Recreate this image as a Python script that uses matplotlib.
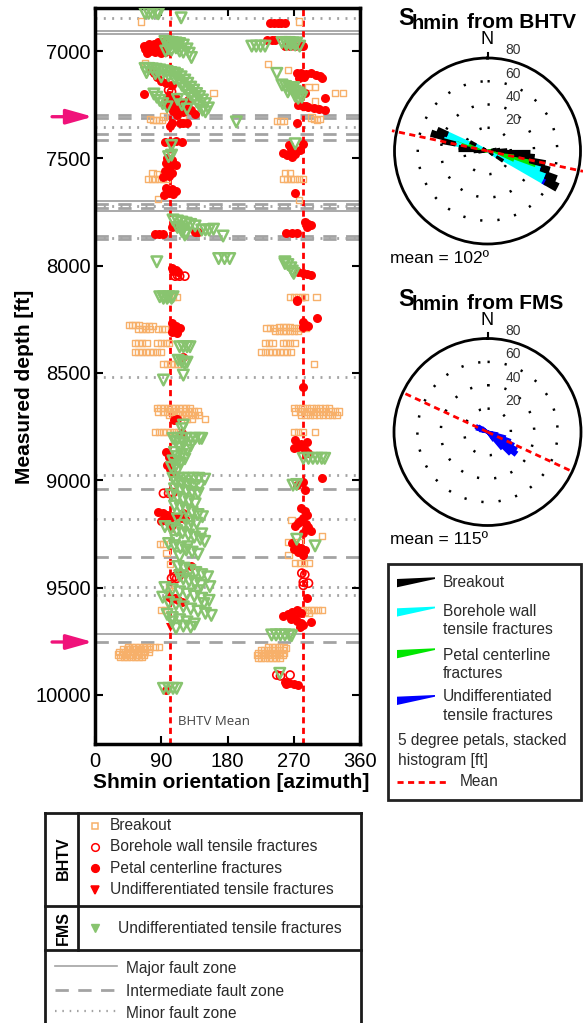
import numpy as np
import matplotlib
matplotlib.use('Agg')
import matplotlib.pyplot as plt
from matplotlib.patches import Polygon, Rectangle
from matplotlib.lines import Line2D

plt.rcParams['font.family'] = ['Liberation Sans', 'DejaVu Sans']

# ---------------- data (depth [ft], azimuth [deg]) ----------------
breakout = [
    (6862, 63), (6862, 277), (7057, 68), (7062, 235), (7088, 262),
    (7166, 290), (7166, 299), (7197, 161), (7197, 326), (7197, 337), (7235, 299),
    (7318, 75), (7321, 79), (7321, 83), (7323, 87), (7321, 91), (7305, 93), (7300, 120),
    (7310, 294), (7315, 298), (7321, 302), (7318, 306), (7325, 247), (7325, 252), (7325, 256),
    (7570, 78), (7572, 84), (7595, 72), (7597, 77), (7598, 82), (7597, 87), (7598, 92), (7597, 97),
    (7570, 258), (7570, 265), (7595, 256), (7597, 261), (7597, 266), (7598, 271), (7597, 277), (7597, 283),
    (7691, 86), (7694, 277), (7795, 285),
    (8145, 95), (8145, 100), (8145, 106), (8145, 111), (8145, 265), (8145, 270), (8145, 276),
    (8145, 281), (8145, 285), (8145, 301),
    (8275, 46), (8275, 50), (8275, 55), (8275, 60), (8280, 68), (8280, 73), (8280, 78),
    (8297, 59), (8297, 64), (8297, 69), (8297, 74), (8295, 86), (8295, 91), (8297, 95),
    (8362, 54), (8362, 59), (8362, 64), (8362, 70), (8360, 85), (8362, 90), (8362, 96), (8362, 101),
    (8404, 54), (8404, 59), (8404, 64), (8404, 69), (8404, 74), (8404, 79), (8404, 84), (8404, 90),
    (8460, 93), (8460, 98), (8460, 103), (8460, 108), (8460, 113),
    (8289, 233), (8289, 238), (8289, 243), (8287, 250), (8287, 255), (8287, 260), (8287, 265),
    (8289, 270), (8289, 276), (8289, 281), (8289, 287),
    (8305, 245), (8305, 250), (8305, 255), (8305, 260), (8305, 265), (8305, 270), (8305, 276),
    (8362, 231), (8362, 236), (8362, 241), (8362, 255), (8362, 260), (8362, 265), (8362, 271),
    (8404, 226), (8404, 231), (8404, 236), (8404, 241), (8404, 246), (8404, 251), (8404, 256),
    (8404, 261), (8404, 266), (8460, 297),
    (8665, 84), (8665, 89), (8665, 94), (8665, 99), (8665, 104), (8665, 109), (8665, 114),
    (8665, 119), (8665, 124), (8665, 129),
    (8680, 86), (8680, 92), (8680, 98), (8680, 104), (8680, 110), (8680, 116), (8680, 122),
    (8680, 128), (8680, 134), (8680, 140),
    (8696, 100), (8696, 106), (8696, 112), (8696, 118), (8696, 124), (8696, 130), (8696, 136), (8696, 141),
    (8715, 125), (8715, 131), (8715, 149),
    (8665, 270), (8665, 276), (8665, 282), (8665, 288), (8665, 294), (8665, 300), (8665, 306),
    (8665, 312), (8665, 318),
    (8680, 272), (8680, 278), (8680, 284), (8680, 290), (8680, 296), (8680, 302), (8680, 308),
    (8680, 314), (8680, 320), (8680, 326), (8680, 332),
    (8696, 280), (8696, 286), (8696, 292), (8696, 298), (8696, 304), (8696, 310), (8696, 316),
    (8696, 322), (8696, 328),
    (8777, 82), (8777, 87), (8777, 92), (8777, 97), (8777, 102), (8777, 107), (8777, 113),
    (8777, 270), (8777, 276), (8777, 282), (8777, 299),
    (9186, 267), (9260, 308), (9288, 263), (9288, 270), (9288, 278), (9348, 263),
    (9387, 272), (9387, 278), (9384, 284), (9387, 290),
    (9186, 93), (9297, 88), (9297, 93), (9340, 97), (9390, 102), (9496, 100),
    (9488, 104), (9605, 90), (9605, 95),
    (9605, 283), (9605, 288), (9605, 293), (9605, 298), (9605, 303), (9605, 308), (9615, 285), (9620, 290),
    (9776, 45), (9776, 50), (9776, 55), (9776, 60), (9776, 65), (9776, 70), (9776, 75), (9778, 82), (9778, 87),
    (9788, 38), (9788, 43), (9788, 48), (9788, 53), (9788, 58), (9788, 63), (9788, 68), (9788, 73),
    (9800, 33), (9800, 38), (9800, 43), (9800, 48), (9800, 53), (9800, 58), (9800, 63), (9800, 68), (9800, 73),
    (9812, 32), (9812, 37), (9812, 42), (9812, 47), (9812, 52), (9812, 57), (9812, 62), (9812, 67),
    (9824, 34), (9824, 39), (9824, 44), (9824, 49), (9824, 54), (9824, 59), (9824, 64),
    (9780, 235), (9780, 240), (9780, 245), (9780, 250), (9780, 256), (9782, 260),
    (9792, 225), (9792, 230), (9792, 235), (9792, 240), (9792, 245), (9792, 250), (9792, 255),
    (9804, 221), (9804, 226), (9804, 231), (9804, 236), (9804, 241), (9804, 246), (9804, 251), (9804, 256),
    (9816, 220), (9816, 225), (9816, 230), (9816, 235), (9816, 240), (9816, 245), (9816, 250), (9816, 255),
    (9828, 221), (9828, 226), (9828, 231), (9828, 236), (9828, 241), (9828, 246), (9828, 251),
]

borehole_wall = [
    (7182, 100), (7190, 104), (8049, 109), (8049, 115), (8049, 122), (8045, 112),
    (9061, 93), (9061, 100), (9058, 106), (9457, 104), (9457, 111), (9450, 108),
    (9433, 281), (9440, 285), (9475, 283), (9480, 290), (9490, 283),
    (9908, 247), (9908, 265), (9912, 252),
]

petal_centerline = [
    (6871, 238), (6871, 243), (6871, 248), (6871, 253), (6871, 258),
    (6958, 85), (6960, 92), (6962, 97), (6965, 80), (6968, 74), (6970, 88), (6975, 70), (6978, 66),
    (6980, 78), (6983, 84), (6985, 93), (6990, 72), (6992, 68), (6995, 80), (6998, 88), (7000, 75),
    (7003, 95), (7005, 82), (7008, 70), (7011, 90),
    (6950, 233), (6950, 240), (6950, 245), (6977, 258), (6977, 265), (6977, 272), (6977, 278), (6977, 283),
    (7104, 274), (7104, 280), (7108, 287), (7104, 294), (7110, 300), (7118, 305), (7127, 308),
    (7120, 284), (7125, 277), (7197, 285), (7217, 312), (7202, 67),
    (7205, 100), (7212, 108), (7220, 98), (7225, 112), (7232, 104), (7240, 118), (7245, 96),
    (7250, 110), (7255, 124), (7262, 102), (7268, 116), (7275, 130), (7280, 106), (7285, 120),
    (7292, 136), (7298, 112), (7230, 126), (7150, 96), (7160, 104), (7140, 90), (7120, 84),
    (7100, 80), (7090, 76),
    (7250, 276), (7255, 282), (7260, 290), (7265, 298), (7270, 304), (7273, 312), (7258, 286),
    (7337, 104), (7337, 115), (7337, 120), (7337, 125), (7333, 274), (7350, 102),
    (7424, 95), (7424, 102), (7420, 110), (7424, 118),
    (7440, 263), (7455, 266), (7470, 268), (7478, 272), (7432, 283), (7460, 279),
    (7477, 256), (7485, 261), (7492, 267),
    (7500, 98), (7510, 104), (7520, 96), (7530, 110), (7540, 102), (7550, 99), (7560, 95),
    (7570, 105), (7580, 100), (7585, 92),
    (7640, 96), (7645, 104), (7650, 110), (7660, 100), (7665, 106), (7671, 94), (7663, 272),
    (7818, 104), (7818, 111), (7842, 136), (7842, 140), (7853, 81), (7853, 87), (7853, 93),
    (7795, 285), (7805, 290), (7812, 294), (7818, 288), (7849, 260), (7849, 267), (7849, 274),
    (8013, 104), (8020, 110), (8029, 113), (8025, 106),
    (8029, 276), (8035, 282), (8040, 288), (8044, 294), (8160, 274),
    (8165, 274), (8269, 104), (8280, 110), (8290, 115), (8300, 108), (8316, 112), (8310, 104),
    (8246, 301), (8265, 282), (8275, 286), (8285, 283), (8280, 289),
    (8425, 120), (8564, 282), (8715, 111), (8720, 107), (8780, 118), (8820, 288),
    (8813, 272), (8830, 280), (8845, 276), (8860, 285), (8875, 290), (8850, 270),
    (8867, 97), (8890, 100), (8910, 104), (8930, 98), (8950, 102), (8968, 106),
    (8991, 308), (9007, 283), (9046, 285), (9023, 275),
    (9147, 86), (9152, 92), (9160, 98), (9165, 104), (9170, 110), (9175, 116), (9180, 122),
    (9185, 95), (9190, 90), (9194, 100), (9155, 120),
    (9131, 280), (9145, 285), (9160, 288), (9175, 283), (9190, 278), (9205, 286), (9220, 290),
    (9235, 294), (9248, 282), (9200, 276), (9215, 272),
    (9294, 267), (9305, 273), (9315, 280), (9325, 285), (9335, 276), (9348, 282), (9320, 270),
    (9402, 131), (9543, 100), (9550, 108), (9560, 113), (9566, 118), (9555, 104), (9550, 288),
    (9605, 275), (9615, 268), (9625, 262), (9635, 256), (9645, 266), (9655, 274), (9665, 280),
    (9675, 283), (9683, 278), (9659, 294), (9620, 280), (9640, 272),
    (9939, 258), (9945, 264), (9950, 270), (9955, 276), (9948, 260), (9977, 96),
]

bhtv_undiff = [(9224, 100), (9224, 106), (9433, 113), (9440, 118), (9683, 102)]

fms_undiff = [
    (6824, 68), (6824, 73), (6824, 78), (6824, 84), (6826, 86), (6845, 117),
    (6955, 95), (6958, 100), (6960, 105), (6962, 110), (6965, 115), (6970, 100), (6972, 120),
    (6975, 108), (6980, 113), (6985, 110), (6990, 125), (6995, 104), (7000, 115), (7005, 120),
    (7010, 128), (7030, 131), (6990, 100), (7000, 96),
    (6977, 213), (6977, 219), (6977, 225), (6977, 231), (6960, 254), (6960, 259), (6960, 264),
    (6962, 269), (6962, 274), (6970, 260), (6970, 266), (6972, 272), (6977, 278), (7104, 247),
    (7081, 68), (7081, 73), (7083, 78), (7085, 83), (7088, 88), (7092, 93), (7095, 98), (7100, 103),
    (7103, 108), (7110, 112), (7115, 100), (7120, 117), (7128, 108), (7135, 122), (7140, 114),
    (7150, 126), (7160, 118), (7168, 130), (7175, 122), (7182, 134), (7190, 126), (7198, 138),
    (7205, 130), (7212, 142), (7220, 134), (7228, 146), (7236, 138), (7245, 150), (7255, 142),
    (7265, 154), (7275, 146), (7283, 150), (7200, 80), (7215, 84), (7230, 88), (7245, 92),
    (7260, 98), (7225, 112), (7250, 118), (7270, 125), (7100, 70), (7105, 82), (7120, 90),
    (7158, 254), (7165, 259), (7172, 264), (7180, 268), (7188, 272), (7195, 276), (7205, 279),
    (7215, 281), (7170, 270), (7190, 262), (7210, 272), (7220, 276),
    (7330, 192), (7440, 104), (7432, 272), (7492, 100), (7485, 104),
    (7787, 106), (7792, 112), (7797, 118), (7802, 124), (7808, 130), (7815, 136), (7822, 112),
    (7830, 120), (7840, 118), (7850, 124), (7857, 122), (7834, 145), (7834, 150), (7834, 155),
    (7830, 161), (7862, 174),
    (7982, 84), (7967, 168), (7967, 176), (7967, 183),
    (7982, 258), (7995, 262), (8010, 266), (8025, 268), (8036, 270), (7990, 258),
    (8145, 88), (8145, 93), (8145, 100), (8145, 106), (8152, 93), (8152, 98), (8152, 104),
    (8378, 115), (8378, 120), (8378, 125), (8378, 129), (8441, 113), (8448, 118), (8456, 122),
    (8450, 125), (8510, 120), (8533, 93), (8743, 120), (8760, 118),
    (8805, 106), (8805, 112), (8805, 118), (8805, 124), (8805, 130), (8805, 136), (8805, 142), (8805, 145),
    (8820, 110), (8830, 120), (8840, 130), (8850, 115), (8860, 125), (8870, 108), (8880, 118),
    (8890, 112), (8900, 122), (8910, 106), (8920, 116), (8930, 110), (8940, 104), (8953, 112),
    (8898, 283), (8898, 290), (8898, 296), (8898, 302), (8898, 308), (8898, 312), (9023, 269), (9020, 274),
    (8991, 106), (8991, 113), (8991, 120), (8991, 127), (8991, 134), (8991, 141), (8995, 149),
    (9010, 110), (9015, 118), (9020, 126), (9025, 134), (9030, 142), (9040, 108), (9045, 116),
    (9050, 124), (9055, 132), (9061, 140),
    (9069, 104), (9080, 112), (9090, 120), (9100, 128), (9110, 136), (9120, 108), (9130, 116),
    (9140, 124), (9150, 132), (9160, 140), (9170, 146), (9180, 112), (9190, 130), (9200, 138),
    (9210, 120), (9216, 128),
    (9216, 95), (9225, 103), (9235, 111), (9245, 119), (9255, 127), (9265, 135), (9275, 143),
    (9285, 149), (9295, 100), (9305, 108), (9315, 116), (9325, 124), (9335, 132), (9345, 140),
    (9356, 115), (9250, 145), (9280, 110), (9310, 126), (9275, 274), (9306, 299),
    (9402, 113), (9410, 121), (9420, 129), (9430, 137), (9440, 145), (9450, 153), (9460, 120),
    (9470, 128), (9480, 136), (9490, 144), (9496, 156), (9445, 115),
    (9500, 95), (9510, 105), (9520, 115), (9530, 125), (9540, 135), (9550, 145), (9560, 155),
    (9570, 100), (9580, 110), (9590, 120), (9600, 130), (9610, 140), (9620, 150), (9630, 158),
    (9640, 105), (9650, 115), (9660, 125), (9670, 135), (9680, 120), (9690, 110), (9515, 140),
    (9545, 92), (9575, 148), (9625, 98), (9660, 105), (9685, 130),
    (9721, 240), (9721, 246), (9721, 252), (9721, 258), (9721, 264), (9725, 267),
    (9900, 251), (9970, 93), (9970, 100), (9970, 106), (9970, 111),
]

major_faults = [6905, 6922, 7700, 7745, 9717]
intermediate_faults = [7298, 7314, 7388, 7415, 7713, 7731, 7860, 7878, 9043, 9357, 9754]
minor_faults = [6848, 7353, 7722, 7869, 8517, 8977, 9183, 9497, 9536]
arrow_depths = [7306, 9754]
bhtv_mean_az = [102, 282]

# rose diagrams: 5-degree bins, stacked lengths [ft]
bhtv_bins = [77.5, 82.5, 87.5, 92.5, 97.5, 102.5, 107.5, 112.5, 117.5, 122.5, 127.5,
             262.5, 267.5, 272.5, 277.5, 282.5, 287.5, 292.5, 297.5, 302.5]
bhtv_petal = [4, 6, 8, 12, 24, 38, 44, 25, 5, 0, 0, 3, 6, 10, 16, 24, 28, 18, 4, 0]
bhtv_wall = [0, 0, 0, 0, 0, 0, 5, 30, 50, 10, 3, 0, 0, 0, 0, 5, 12, 20, 8, 2]
bhtv_undiff_len = [0, 0, 0, 0, 0, 0, 0, 0, 2, 0, 0, 0, 0, 0, 0, 0, 0, 0, 0, 0]
bhtv_breakout = [3, 4, 8, 24, 16, 12, 6, 8, 10, 5, 2, 4, 5, 14, 8, 10, 10, 8, 4, 2]
bhtv_mean = 102

fms_bins = [102.5, 107.5, 112.5, 117.5, 122.5, 127.5, 132.5, 137.5, 142.5,
            282.5, 287.5, 292.5, 297.5, 302.5, 307.5]
fms_len = [8, 15, 20, 24, 28, 30, 26, 18, 8, 6, 9, 10, 10, 8, 5]
fms_mean = 115

# ---------------- styling ----------------
W, H = 583, 1023
fig = plt.figure(figsize=(W / 100, H / 100), dpi=100)


def fx(x):
    return x / W


def fy(y):
    return 1 - y / H


ORANGE = '#f7b06a'
RED = '#ff0000'
GREEN = '#88c46f'
GRAY = '#a3a3a3'
PINK = '#f0127a'
TXT = '#2a2a2a'

ax = fig.add_axes([fx(95), fy(743.5), 265 / W, 736 / H])
ax.set_xlim(0, 360)
ax.set_ylim(10227, 6797)

for d in major_faults:
    ax.axhline(d, color=GRAY, lw=1.3, zorder=1)
for d in intermediate_faults:
    ax.axhline(d, color=GRAY, lw=2.0, dashes=(4.8, 3.4), zorder=1)
for d in minor_faults:
    ax.axhline(d, color=GRAY, lw=2.0, dashes=(0.7, 2.3), zorder=1)

for m in bhtv_mean_az:
    ax.axvline(m, color=RED, lw=2.0, dashes=(2.2, 1.6), zorder=2)


def unz(pts):
    d, a = zip(*pts)
    return np.array(a), np.array(d)


a, d = unz(breakout)
ax.scatter(a, d, marker='s', s=20, facecolors='none', edgecolors=ORANGE, linewidths=1.0, zorder=3)
a, d = unz(borehole_wall)
ax.scatter(a, d, marker='o', s=34, facecolors='none', edgecolors=RED, linewidths=1.2, zorder=4)
a, d = unz(petal_centerline)
ax.scatter(a, d, marker='o', s=42, color=RED, linewidths=0, zorder=4)
a, d = unz(bhtv_undiff)
ax.scatter(a, d, marker='v', s=42, color=RED, linewidths=0, zorder=4)
a, d = unz(fms_undiff)
ax.scatter(a, d, marker='v', s=58, facecolors='none', edgecolors=GREEN, linewidths=1.8, zorder=5)

ax.text(113, 10125, 'BHTV Mean', va='center', ha='left', fontsize=9.5,
        family=['Open Sans', 'DejaVu Sans'], color='#444444')

ax.set_xticks([0, 90, 180, 270, 360])
ax.set_yticks([7000, 7500, 8000, 8500, 9000, 9500, 10000])
ax.tick_params(direction='in', length=6, width=1.5, top=True, right=True, labelsize=14.5,
               colors='black')
ax.tick_params(axis='x', pad=6)
ax.tick_params(axis='y', pad=3)
for sp in ax.spines.values():
    sp.set_linewidth(2.5)

fig.text(fx(24.5), fy(386.5), 'Measured depth [ft]', rotation=90, ha='center', va='center',
         fontsize=15, fontweight='bold')
fig.text(fx(231), fy(783), 'Shmin orientation [azimuth]', ha='center', va='center',
         fontsize=15, fontweight='bold')

for dpt in arrow_depths:
    ax.annotate('', xy=(-0.008, dpt), xycoords=ax.get_yaxis_transform(),
                xytext=(-0.162, dpt), textcoords=ax.get_yaxis_transform(),
                arrowprops=dict(arrowstyle='-|>,head_length=1.6,head_width=0.45',
                                color=PINK, lw=2.4, shrinkA=0, shrinkB=0, mutation_scale=10),
                annotation_clip=False)


# ---------------- rose diagrams ----------------
def rose_axes(cx, cy, r):
    p = fig.add_axes([fx(cx - r), fy(cy + r), 2 * r / W, 2 * r / H], projection='polar')
    p.set_theta_zero_location('N')
    p.set_theta_direction(-1)
    p.set_ylim(0, 80)
    p.set_yticks([20, 40, 60])
    p.set_yticklabels([])
    p.set_xticks([])
    p.yaxis.grid(True, color='black', linestyle=(0, (0.9, 6.0)), linewidth=1.8)
    p.spines['polar'].set_linewidth(2.0)
    p.set_facecolor('none')
    for rv in [20, 40, 60, 80]:
        th = np.arctan2(22, rv + 6.5)
        rr = np.hypot(22, rv + 6.5)
        p.text(th, rr, str(rv), ha='center', va='center', fontsize=10, color='#333333',
               clip_on=False)
    p.plot([0, 0], [80, 84.5], color='black', lw=1.5, clip_on=False)
    p.text(0, 95.5, 'N', ha='center', va='center', fontsize=13, clip_on=False)
    return p


w5 = np.deg2rad(5)
p1 = rose_axes(487.5, 151, 93)
th = np.deg2rad(bhtv_bins)
bottom = np.zeros(len(bhtv_bins))
for vals, col in [(bhtv_petal, '#00e600'), (bhtv_wall, '#00ffff'),
                  (bhtv_undiff_len, '#0000ff'), (bhtv_breakout, '#000000')]:
    v = np.array(vals, dtype=float)
    p1.bar(th, v, width=w5, bottom=bottom, color=col, edgecolor=col, linewidth=1.6, zorder=3)
    bottom += v
mt = np.deg2rad(bhtv_mean)
p1.plot([mt, mt], [0, 84], color=RED, lw=2, dashes=(2.2, 1.6), clip_on=False, zorder=4)
p1.plot([mt + np.pi, mt + np.pi], [0, 84], color=RED, lw=2, dashes=(2.2, 1.6), clip_on=False, zorder=4)

p2 = rose_axes(487.5, 432, 93.5)
p2.bar(np.deg2rad(fms_bins), fms_len, width=w5, color='#0000ff', edgecolor='#0000ff',
       linewidth=2.2, zorder=3)
mt = np.deg2rad(fms_mean)
p2.plot([mt, mt], [0, 80], color=RED, lw=2, dashes=(2.2, 1.6), zorder=4)
p2.plot([mt + np.pi, mt + np.pi], [0, 80], color=RED, lw=2, dashes=(2.2, 1.6), zorder=4)

# titles
for y0, src, mean in [(0, 'from BHTV', bhtv_mean), (281, 'from FMS', fms_mean)]:
    fig.text(fx(398), fy(25 + y0), 'S', fontsize=17, fontweight='bold', va='baseline')
    fig.text(fx(412), fy(29.3 + y0), 'hmin', fontsize=14.5, fontweight='bold', va='baseline')
    fig.text(fx(467), fy(28.3 + y0), src, fontsize=15, fontweight='bold', va='baseline')
    fig.text(fx(390), fy(263 + y0), 'mean = %dº' % mean, fontsize=12.5, va='baseline')

# ---------------- right legend ----------------
fig.add_artist(Rectangle((fx(388), fy(800)), (581 - 388) / W, (800 - 564) / H,
                         transform=fig.transFigure, fill=False, lw=2, ec='#222222'))
wedge = [(397, 579), (435, 577.3), (435, 579), (397, 587.3)]
for dy, col in [(0, '#000000'), (29.3, '#00ffff'), (71, '#00e600'), (117.7, '#0000ff')]:
    fig.add_artist(Polygon([(fx(x), fy(y + dy)) for x, y in wedge], closed=True,
                           transform=fig.transFigure, color=col, lw=0))
leg_r = [(443, 582.7, 'Breakout'), (443, 611.7, 'Borehole wall'), (443, 630, 'tensile fractures'),
         (443, 655, 'Petal centerline'), (443, 673.3, 'fractures'),
         (443, 696.7, 'Undifferentiated'), (443, 715, 'tensile fractures'),
         (398, 740, '5 degree petals, stacked'), (398, 760, 'histogram [ft]'), (460, 781.7, 'Mean')]
for x, y, t in leg_r:
    fig.text(fx(x), fy(y), t, fontsize=11.2, va='center', ha='left', color=TXT)
fig.add_artist(Line2D([fx(397), fx(447)], [fy(782), fy(782)], transform=fig.transFigure,
                      color=RED, lw=2, dashes=(2.2, 1.6)))

# ---------------- bottom legend ----------------
LW = 2
box_lines = [
    ([45, 360.7], [812.7, 812.7]), ([45, 360.7], [906, 906]), ([45, 360.7], [950, 950]),
    ([45, 45], [812.7, 1023]), ([360.7, 360.7], [812.7, 1023]), ([78.3, 78.3], [812.7, 950]),
]
for xs, ys in box_lines:
    fig.add_artist(Line2D([fx(v) for v in xs], [fy(v) for v in ys], transform=fig.transFigure,
                          color='#1a1a1a', lw=LW))
fig.text(fx(63.3), fy(858.3), 'BHTV', rotation=90, fontsize=11.5, fontweight='bold',
         ha='center', va='center')
fig.text(fx(63.3), fy(928.3), 'FMS', rotation=90, fontsize=11.5, fontweight='bold',
         ha='center', va='center')

mk = [(826, 's', 'none', ORANGE, 'Breakout'),
      (846.7, 'o', 'none', RED, 'Borehole wall tensile fractures'),
      (868.3, 'o', RED, RED, 'Petal centerline fractures'),
      (890, 'v', RED, RED, 'Undifferentiated tensile fractures')]
for y, m, fc, ec, t in mk:
    fig.add_artist(Line2D([fx(95)], [fy(y)], transform=fig.transFigure, marker=m, ls='none',
                          markersize=5.5 if m != 's' else 4.8, markerfacecolor=fc,
                          markeredgecolor=ec, markeredgewidth=1.1))
    fig.text(fx(110), fy(y), t, fontsize=11.2, va='center', ha='left', color=TXT)
fig.add_artist(Line2D([fx(95)], [fy(928.3)], transform=fig.transFigure, marker='v', ls='none',
                      markersize=6, markerfacecolor=GREEN, markeredgecolor=GREEN))
fig.text(fx(118.3), fy(928.3), 'Undifferentiated tensile fractures', fontsize=11.2,
         va='center', ha='left', color=TXT)

for y, kw, t in [(966, dict(lw=1.2), 'Major fault zone'),
                 (989.5, dict(lw=2, dashes=(4.8, 3.4)), 'Intermediate fault zone'),
                 (1011, dict(lw=1.6, dashes=(0.7, 2.6)), 'Minor fault zone')]:
    fig.add_artist(Line2D([fx(55), fx(117)], [fy(y), fy(y)], transform=fig.transFigure,
                          color=GRAY, **kw))
    fig.text(fx(126), fy(y + 2), t, fontsize=11.2, va='center', ha='left', color=TXT)

fig.savefig('out.png', dpi=100)
